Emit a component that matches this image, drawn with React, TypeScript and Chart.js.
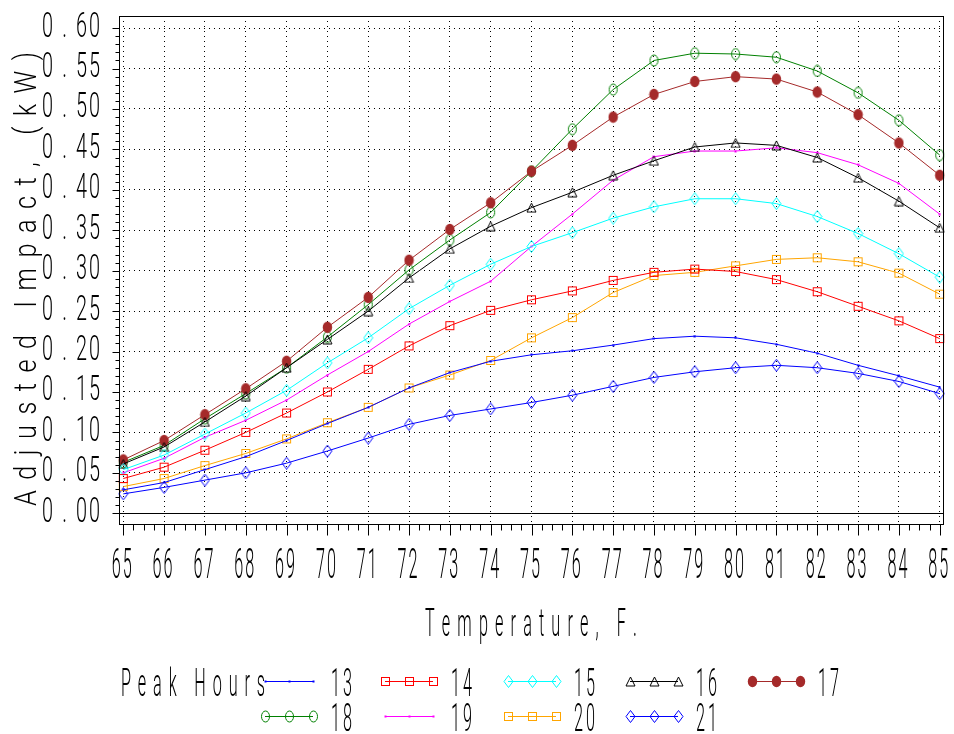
import React, { useEffect, useRef } from 'react';
import { Chart, registerables } from 'chart.js';

Chart.register(...registerables);

const temperatures = [65, 66, 67, 68, 69, 70, 71, 72, 73, 74, 75, 76, 77, 78, 79, 80, 81, 82, 83, 84, 85];
const yTickValues = [0, 0.05, 0.1, 0.15, 0.2, 0.25, 0.3, 0.35, 0.4, 0.45, 0.5, 0.55, 0.6];

const peak13 = [0.029, 0.038, 0.054, 0.070, 0.090, 0.111, 0.131, 0.155, 0.174, 0.188, 0.196, 0.201, 0.208, 0.216, 0.219, 0.217, 0.209, 0.198, 0.183, 0.170, 0.156];
const peak14 = [0.043, 0.057, 0.078, 0.100, 0.124, 0.150, 0.178, 0.207, 0.232, 0.251, 0.264, 0.275, 0.288, 0.298, 0.302, 0.299, 0.289, 0.274, 0.256, 0.238, 0.216];
const peak15 = [0.054, 0.072, 0.098, 0.124, 0.152, 0.186, 0.217, 0.253, 0.282, 0.308, 0.330, 0.347, 0.365, 0.379, 0.389, 0.389, 0.383, 0.367, 0.346, 0.321, 0.292];
const peak16 = [0.061, 0.082, 0.113, 0.145, 0.180, 0.215, 0.250, 0.291, 0.327, 0.355, 0.378, 0.397, 0.418, 0.436, 0.453, 0.458, 0.455, 0.440, 0.415, 0.386, 0.353];
const peak17 = [0.066, 0.090, 0.122, 0.154, 0.188, 0.230, 0.267, 0.313, 0.351, 0.384, 0.423, 0.455, 0.490, 0.518, 0.534, 0.540, 0.537, 0.521, 0.493, 0.458, 0.418];
const peak18 = [0.063, 0.084, 0.117, 0.148, 0.180, 0.218, 0.258, 0.301, 0.338, 0.372, 0.423, 0.475, 0.524, 0.560, 0.569, 0.568, 0.564, 0.547, 0.520, 0.486, 0.443];
const peak19 = [0.050, 0.068, 0.094, 0.115, 0.140, 0.171, 0.200, 0.234, 0.262, 0.287, 0.330, 0.370, 0.412, 0.441, 0.448, 0.448, 0.452, 0.446, 0.431, 0.408, 0.370];
const peak20 = [0.033, 0.043, 0.059, 0.074, 0.092, 0.112, 0.131, 0.155, 0.171, 0.189, 0.217, 0.242, 0.273, 0.294, 0.298, 0.306, 0.314, 0.316, 0.311, 0.297, 0.271];
const peak21 = [0.024, 0.032, 0.041, 0.050, 0.062, 0.077, 0.093, 0.110, 0.121, 0.129, 0.137, 0.146, 0.157, 0.168, 0.175, 0.180, 0.183, 0.180, 0.173, 0.163, 0.148];

const seriesLabels = ['13', '14', '15', '16', '17', '18', '19', '20', '21'];
const seriesValues = [peak13, peak14, peak15, peak16, peak17, peak18, peak19, peak20, peak21];
const seriesColors = ['#0000ff', '#ff0000', '#00ffff', '#000000', '#a52a2a', '#008000', '#ff00ff', '#ffa500', '#0000ff'];
const seriesMarkers = ['dot', 'square', 'diamond', 'triangle', 'ellipseFilled', 'ellipse', 'dot', 'square', 'diamond'];

const xTitle = 'Temperature, F.';
const yTitle = 'Adjusted Impact, (kW)';
const legendTitle = 'Peak Hours';

const FONT = '"Roboto", "Liberation Sans", sans-serif';
const WEIGHT = 300;

function markerSize(kind: string): [number, number] {
  if (kind === 'diamond' || kind === 'ellipse' || kind === 'ellipseFilled') return [11, 13];
  if (kind === 'dot') return [3, 3];
  return [11, 11];
}

// draws a marker shape with its top-left corner at (ox, oy)
function drawShape(g: CanvasRenderingContext2D, kind: string, color: string, ox: number, oy: number) {
  g.save();
  g.translate(ox, oy);
  g.strokeStyle = color; g.fillStyle = color; g.lineWidth = 1;
  if (kind === 'square') {
    g.strokeRect(1.5, 1.5, 8, 8);
  } else if (kind === 'diamond') {
    g.beginPath(); g.moveTo(5.5, 0.5); g.lineTo(10, 6.5); g.lineTo(5.5, 12.5); g.lineTo(1, 6.5); g.closePath(); g.stroke();
  } else if (kind === 'triangle') {
    g.beginPath(); g.moveTo(5.5, 1); g.lineTo(10, 10); g.lineTo(1, 10); g.closePath(); g.stroke();
  } else if (kind === 'ellipse') {
    g.beginPath(); g.ellipse(5.5, 6.5, 4, 5.5, 0, 0, Math.PI * 2); g.stroke();
  } else if (kind === 'ellipseFilled') {
    g.beginPath(); g.ellipse(5.5, 6.5, 4.7, 5.8, 0, 0, Math.PI * 2); g.fill();
  } else {
    g.fillRect(0.5, 0.5, 2, 2);
  }
  g.restore();
}

function makeMarker(kind: string, color: string): HTMLCanvasElement {
  const c = document.createElement('canvas');
  const [w, h] = markerSize(kind);
  c.width = w; c.height = h;
  drawShape(c.getContext('2d')!, kind, color, 0, 0);
  return c;
}

type TextOpts = {
  cap: number; glyphW: number; align: 'left' | 'center' | 'right';
  span?: number; gap?: number; dotSlot?: number; color?: string;
};

function spacedText(ctx: CanvasRenderingContext2D, text: string, x: number, cy: number, o: TextOpts) {
  ctx.save();
  ctx.font = `${WEIGHT} 100px ${FONT}`;
  const capRatio = ctx.measureText('H').actualBoundingBoxAscent / 100;
  const size = o.cap / capRatio;
  ctx.font = `${WEIGHT} ${size}px ${FONT}`;
  ctx.fillStyle = o.color ?? '#000';
  ctx.textBaseline = 'alphabetic';
  ctx.textAlign = 'left';
  const sx = o.glyphW / ctx.measureText('0').width;
  const chars = Array.from(text);
  const glyphWs = chars.map((c) => ctx.measureText(c).width * sx);
  const slotWs = chars.map((c, i) => (o.dotSlot !== undefined && c === '.' ? o.dotSlot : glyphWs[i]));
  const sum = slotWs.reduce((a, b) => a + b, 0);
  let gap = o.gap ?? 0;
  let total: number;
  if (o.span !== undefined) {
    gap = chars.length > 1 ? (o.span - sum) / (chars.length - 1) : 0;
    total = o.span;
  } else {
    total = sum + gap * (chars.length - 1);
  }
  let cx = o.align === 'left' ? x : o.align === 'center' ? x - total / 2 : x - total;
  const base = cy + o.cap / 2;
  chars.forEach((ch, i) => {
    ctx.save();
    ctx.translate(cx + (slotWs[i] - glyphWs[i]) / 2, base);
    ctx.scale(sx, 1);
    ctx.fillText(ch, 0, 0);
    ctx.restore();
    cx += slotWs[i] + gap;
  });
  ctx.restore();
}

function seg(ctx: CanvasRenderingContext2D, x1: number, y1: number, x2: number, y2: number) {
  ctx.beginPath(); ctx.moveTo(x1, y1); ctx.lineTo(x2, y2); ctx.stroke();
}

export default function App() {
  const ref = useRef<HTMLCanvasElement | null>(null);

  useEffect(() => {
    if (!ref.current) return;
    const markers = seriesMarkers.map((m, i) => makeMarker(m, seriesColors[i]));

    const datasets = seriesLabels.map((lab, i) => ({
      label: lab,
      data: temperatures.map((t, j) => ({ x: t, y: seriesValues[i][j] })),
      borderColor: seriesColors[i],
      backgroundColor: seriesColors[i],
      borderWidth: 1,
      pointStyle: markers[i] as any,
      pointRadius: 5,
      pointHoverRadius: 5,
      tension: 0,
      clip: false as any,
    }));

    const decor = {
      id: 'decor',
      beforeDatasetsDraw(chart: any) {
        const { ctx, chartArea: a, scales } = chart;
        const y0 = Math.round(scales.y.getPixelForValue(0)) + 0.5;
        ctx.save();
        ctx.strokeStyle = '#000'; ctx.lineWidth = 1;
        seg(ctx, a.left, y0, a.right, y0);
        ctx.restore();
      },
      afterDraw(chart: any) {
        const { ctx, chartArea: a, scales } = chart;
        const xs = scales.x, ys = scales.y;
        ctx.save();
        ctx.setLineDash([]);
        ctx.strokeStyle = '#000'; ctx.lineWidth = 1;
        const L = Math.round(a.left) + 0.5, R = Math.round(a.right) - 0.5;
        const T = Math.round(a.top) + 0.5, B = Math.round(a.bottom) - 0.5;
        ctx.strokeRect(L, T, R - L, B - T);
        for (let i = 0; i <= 60; i++) {
          const v = i / 100;
          const py = Math.round(ys.getPixelForValue(v)) + 0.5;
          const len = i % 5 === 0 ? 7 : 4;
          seg(ctx, L - len, py, L, py);
        }
        for (let i = 0; i <= 80; i++) {
          const v = 65 + i / 4;
          const px = Math.round(xs.getPixelForValue(v)) + 0.5;
          const len = i % 4 === 0 ? 11 : 6;
          seg(ctx, px, B, px, B + len);
        }
        ctx.restore();

        yTickValues.forEach((v) => {
          spacedText(ctx, v.toFixed(2), 100, ys.getPixelForValue(v) - 4,
            { cap: 25, glyphW: 11, gap: 2, dotSlot: 19, align: 'right' });
        });
        temperatures.forEach((t) => {
          spacedText(ctx, String(t), xs.getPixelForValue(t) - 1.5, 563,
            { cap: 30, glyphW: 9, gap: 2, align: 'center' });
        });
        spacedText(ctx, xTitle, 425, 622, { cap: 27, glyphW: 9, span: 212, align: 'left' });
        ctx.save();
        ctx.translate(24.5, 279);
        ctx.rotate(-Math.PI / 2);
        spacedText(ctx, yTitle, 0, 0, { cap: 22, glyphW: 14, span: 454, align: 'center' });
        ctx.restore();

        spacedText(ctx, legendTitle, 121, 682, { cap: 27, glyphW: 9, span: 144, align: 'left' });
        const colX = [265, 385, 508, 630, 752];
        const rowY = [681, 716];
        seriesLabels.forEach((lab, i) => {
          const row = i < 5 ? 0 : 1;
          const col = i < 5 ? i : i - 5;
          const x1 = colX[col], yy = rowY[row] + 0.5;
          ctx.save();
          ctx.setLineDash([]);
          ctx.globalAlpha = 1;
          ctx.strokeStyle = seriesColors[i]; ctx.lineWidth = 1;
          seg(ctx, x1, yy, x1 + 48, yy);
          const [mw, mh] = markerSize(seriesMarkers[i]);
          [x1, x1 + 24, x1 + 48].forEach((mx) => {
            drawShape(ctx, seriesMarkers[i], seriesColors[i], Math.round(mx - mw / 2), Math.round(yy - mh / 2));
          });
          ctx.restore();
          spacedText(ctx, lab, x1 + 66, rowY[row] + 1, { cap: 27, glyphW: 9, gap: 3, align: 'left' });
        });
      },
    };

    const chart = new Chart(ref.current, {
      type: 'line',
      data: { datasets: datasets as any },
      options: {
        animation: false,
        responsive: false,
        devicePixelRatio: 1,
        layout: { padding: { left: 119, right: 10, top: 16, bottom: 209 } },
        plugins: { legend: { display: false }, tooltip: { enabled: false } },
        scales: {
          x: {
            type: 'linear',
            min: 64.895,
            max: 85.105,
            afterBuildTicks: (s: any) => { s.ticks = temperatures.map((t) => ({ value: t })); },
            ticks: { display: false },
            grid: { color: '#000', lineWidth: 1, drawTicks: false },
            border: { display: false, dash: [1, 4] },
          },
          y: {
            type: 'linear',
            min: -0.0145,
            max: 0.615,
            afterBuildTicks: (s: any) => { s.ticks = yTickValues.map((v) => ({ value: v })); },
            ticks: { display: false },
            grid: { color: '#000', lineWidth: 1, drawTicks: false },
            border: { display: false, dash: [1, 4] },
          },
        },
      },
      plugins: [decor],
    });
    return () => chart.destroy();
  }, []);

  return (
    <div style={{ position: 'absolute', left: 0, top: 0, width: 954, height: 734, background: '#fff' }}>
      <canvas ref={ref} width={954} height={734} style={{ display: 'block', width: 954, height: 734 }} />
    </div>
  );
}
